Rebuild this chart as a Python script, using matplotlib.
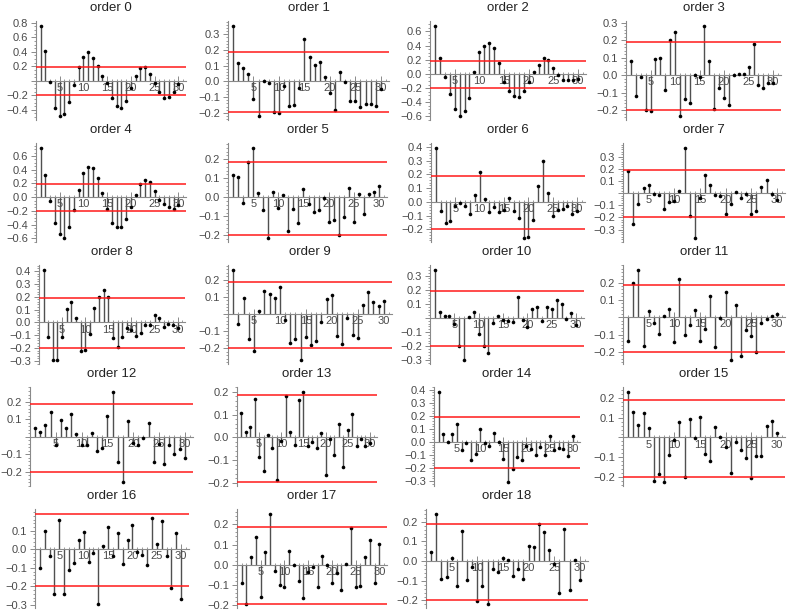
import matplotlib
matplotlib.use('Agg')
import matplotlib.pyplot as plt
from matplotlib.ticker import FixedLocator, MultipleLocator, AutoMinorLocator

plt.rcParams['font.family'] = ['Liberation Sans', 'DejaVu Sans']

# ---------------- data ----------------
lags = list(range(1, 31))

acf_order0 = [0.75, 0.41, -0.02, -0.38, -0.49, -0.46, -0.29, -0.06, 0.195, 0.33,
              0.40, 0.32, 0.20, 0.06, -0.03, -0.24, -0.35, -0.37, -0.28, -0.10,
              0.06, 0.17, 0.19, 0.10, -0.03, -0.16, -0.23, -0.22, -0.15, -0.04]
acf_order1 = [0.35, 0.118, 0.086, 0.046, -0.11, -0.223, 0.004, -0.013, -0.198, -0.204,
              -0.027, -0.154, -0.152, -0.044, 0.27, 0.158, 0.105, 0.122, 0.03, -0.072,
              -0.183, 0.059, -0.006, -0.124, -0.122, -0.16, -0.145, -0.145, -0.154, -0.05]
acf_order2 = [0.67, 0.23, -0.05, -0.29, -0.49, -0.60, -0.53, -0.34, 0.03, 0.31,
              0.40, 0.44, 0.36, 0.15, -0.11, -0.24, -0.31, -0.32, -0.24, -0.12,
              0.02, 0.13, 0.22, 0.20, 0.08, -0.02, -0.09, -0.08, -0.08, -0.07]
acf_order3 = [0.08, -0.116, -0.012, -0.198, -0.202, 0.094, 0.102, -0.082, 0.204, 0.249,
              -0.235, -0.135, -0.157, 0.002, -0.008, 0.28, 0.084, -0.19, -0.07, -0.129,
              -0.171, 0.002, 0.01, 0.01, 0.045, 0.18, -0.053, -0.073, -0.045, -0.045]
acf_order4 = [0.71, 0.325, -0.055, -0.38, -0.54, -0.60, -0.44, -0.18, 0.105, 0.355,
              0.445, 0.425, 0.285, 0.06, -0.165, -0.375, -0.435, -0.44, -0.315, -0.145,
              0.025, 0.185, 0.25, 0.225, 0.085, -0.045, -0.095, -0.15, -0.175, -0.115]
acf_order5 = [0.117, 0.108, -0.028, 0.188, 0.257, 0.021, -0.068, -0.216, 0.026, -0.054,
              0.012, -0.179, -0.063, -0.136, 0.042, -0.035, -0.077, -0.066, -0.005, -0.129,
              -0.118, -0.197, -0.104, 0.049, -0.129, 0.016, -0.09, 0.017, 0.03, 0.059]
acf_order6 = [0.39, -0.063, -0.157, -0.137, -0.033, -0.005, -0.028, -0.091, 0.048, 0.22,
              0.018, -0.076, -0.035, -0.073, -0.058, 0.025, -0.063, -0.116, -0.266, -0.256,
              -0.132, 0.116, 0.30, 0.066, -0.101, -0.056, -0.053, -0.028, -0.086, -0.063]
acf_order7 = [0.184, -0.254, -0.086, 0.038, 0.065, -0.008, -0.016, -0.127, -0.07, -0.065,
              0.019, 0.368, -0.192, -0.373, -0.038, 0.146, 0.07, -0.016, -0.027, -0.176,
              -0.089, 0.011, -0.04, -0.008, -0.168, -0.151, 0.051, 0.108, -0.005, -0.059]
acf_order8 = [0.405, -0.11, -0.295, -0.289, -0.11, 0.102, 0.156, 0.031, -0.224, -0.215,
              -0.088, 0.113, 0.195, 0.255, 0.2, -0.119, -0.193, -0.11, -0.045, -0.062,
              -0.102, -0.085, -0.02, -0.02, 0.06, 0.034, -0.034, -0.008, -0.02, -0.045]
acf_order9 = [0.253, -0.057, 0.09, -0.147, -0.213, 0.015, 0.133, 0.116, 0.09, 0.154,
              -0.038, -0.166, -0.145, -0.27, -0.133, -0.181, -0.156, -0.044, 0.088, 0.109,
              -0.128, -0.177, -0.025, -0.12, -0.139, 0.051, 0.128, 0.07, 0.044, 0.076]
acf_order10 = [0.337, 0.044, 0.015, 0.015, -0.041, -0.195, -0.30, 0.007, 0.041, -0.115,
               -0.195, -0.251, -0.032, 0.017, -0.017, -0.022, -0.029, 0.149, -0.017, -0.066,
               0.061, 0.08, -0.022, 0.078, 0.066, 0.129, 0.10, -0.005, 0.037, -0.049]
acf_order11 = [-0.136, 0.20, 0.27, -0.164, 0.038, -0.036, -0.094, 0.006, 0.047, -0.145,
               0.223, -0.102, -0.047, 0.042, -0.14, -0.07, 0.123, -0.174, -0.004, 0.143,
               -0.249, 0.07, -0.225, -0.074, -0.106, -0.198, -0.034, -0.013, 0.008, 0.017]
acf_order12 = [0.047, 0.026, 0.065, 0.14, -0.047, 0.097, 0.05, 0.129, 0.017, -0.047,
               -0.047, 0.02, -0.08, -0.065, 0.118, 0.252, -0.146, -0.26, 0.088, -0.036,
               -0.047, -0.006, 0.08, -0.144, -0.039, -0.153, -0.05, -0.097, -0.069, -0.12]
acf_order13 = [0.106, 0.023, 0.046, 0.171, -0.086, -0.148, 0.01, -0.046, -0.189, -0.016,
               0.182, 0.024, -0.033, 0.164, 0.198, -0.039, -0.021, -0.046, 0.02, -0.167,
               -0.007, -0.078, 0.059, -0.132, 0.034, 0.101, -0.036, -0.005, -0.039, -0.026]
acf_order14 = [0.38, 0.059, -0.003, 0.059, 0.135, -0.065, -0.006, -0.135, -0.096, 0.101,
               -0.006, -0.028, 0.07, -0.003, -0.127, -0.31, -0.206, -0.113, -0.138, -0.028,
               -0.051, -0.099, -0.037, -0.099, 0.048, -0.059, -0.048, -0.054, -0.104, 0.048]
acf_order15 = [0.228, 0.128, 0.062, 0.125, 0.047, -0.222, -0.183, -0.227, -0.087, -0.015,
               0.078, -0.202, 0.093, -0.005, 0.103, -0.083, -0.117, 0.053, 0.002, -0.047,
               -0.18, -0.022, -0.062, -0.103, -0.207, -0.092, -0.092, 0.06, 0.082, 0.025]
acf_order16 = [-0.099, 0.10, -0.036, -0.24, 0.157, -0.24, -0.11, -0.074, 0.05, 0.095,
               -0.067, -0.018, -0.297, 0.02, 0.121, -0.036, 0.088, -0.079, 0.05, 0.13,
               -0.013, -0.031, -0.085, 0.168, 0.029, 0.15, -0.034, -0.211, 0.088, -0.27]
acf_order17 = [-0.091, -0.197, 0.036, 0.136, -0.161, 0.065, 0.25, -0.034, -0.099, -0.113,
               0.07, -0.003, -0.084, -0.165, -0.036, -0.01, -0.113, 0.043, -0.003, -0.093,
               -0.041, -0.127, 0.005, 0.182, -0.111, -0.106, 0.038, 0.125, -0.091, 0.105]
acf_order18 = [0.044, 0.237, -0.091, -0.081, 0.015, -0.126, 0.153, -0.096, -0.03, -0.203,
               -0.128, -0.22, -0.04, -0.054, 0.017, 0.007, -0.074, -0.039, -0.091, 0.077,
               0.072, 0.19, 0.15, 0.057, -0.017, -0.163, 0.163, -0.148, 0.005, -0.097]

upper_band = 0.188
lower_band = -0.198

# labelled y ticks for each panel
yticks_order = [
    [0.8, 0.6, 0.4, 0.2, -0.2, -0.4],
    [0.3, 0.2, 0.1, 0.0, -0.1, -0.2],
    [0.6, 0.4, 0.2, 0.0, -0.2, -0.4, -0.6],
    [0.3, 0.2, 0.1, 0.0, -0.1, -0.2],
    [0.6, 0.4, 0.2, 0.0, -0.2, -0.4, -0.6],
    [0.2, 0.1, 0.0, -0.1, -0.2],
    [0.4, 0.3, 0.2, 0.1, 0.0, -0.1, -0.2],
    [0.3, 0.2, 0.1, -0.1, -0.2, -0.3],
    [0.4, 0.3, 0.2, 0.1, 0.0, -0.1, -0.2, -0.3],
    [0.2, 0.1, -0.1, -0.2],
    [0.3, 0.2, 0.1, -0.1, -0.2, -0.3],
    [0.2, 0.1, -0.1, -0.2],
    [0.2, 0.1, -0.1, -0.2],
    [0.2, 0.1, 0.0, -0.1, -0.2],
    [0.4, 0.3, 0.2, 0.1, 0.0, -0.1, -0.2, -0.3],
    [0.2, 0.1, -0.1, -0.2],
    [0.1, 0.0, -0.1, -0.2, -0.3],
    [0.2, 0.1, 0.0, -0.1, -0.2],
    [0.2, 0.1, 0.0, -0.1, -0.2],
]
xtick_labels = [5, 10, 15, 20, 25, 30]

series = [acf_order0, acf_order1, acf_order2, acf_order3, acf_order4, acf_order5,
          acf_order6, acf_order7, acf_order8, acf_order9, acf_order10, acf_order11,
          acf_order12, acf_order13, acf_order14, acf_order15, acf_order16, acf_order17,
          acf_order18]

# ---------------- layout (pixels) ----------------
W, H = 789, 610
panel_x = [(36, 186), (228, 389), (430, 586), (626, 781),
           (36, 186), (228, 387), (431, 585), (623, 785),
           (39, 185), (228, 392), (430, 584), (623, 785),
           (30, 193), (237, 377), (434, 580), (623, 785),
           (35, 189), (237, 387), (426, 588)]
row_h = 122
ax_top_off, ax_bot_off = 21, 120

axis_col = '#8a8a8a'
label_col = '#4a4a4a'
stem_col = '#505050'

fig = plt.figure(figsize=(W / 100, H / 100), dpi=100)

for i, vals in enumerate(series):
    row = i // 4
    L, R = panel_x[i]
    T = row * row_h + ax_top_off
    B = row * row_h + ax_bot_off
    ax = fig.add_axes([L / W, 1 - B / H, (R - L) / W, (B - T) / H])

    hi = max(max(vals), upper_band)
    lo = min(min(vals), lower_band)
    rng = hi - lo
    ax.set_ylim(lo - 0.04 * rng, hi + 0.06 * rng)
    ax.set_xlim(0, 31.6)

    ax.vlines(lags, 0, vals, color=stem_col, lw=1.0, zorder=2)
    ax.plot(lags, vals, 'o', color='black', ms=2.6, mew=0, zorder=3)
    ax.axhline(upper_band, color='#ff1a1a', lw=1.1, zorder=4)
    ax.axhline(lower_band, color='#ff1a1a', lw=1.1, zorder=4)

    for s in ('top', 'right'):
        ax.spines[s].set_visible(False)
    ax.spines['bottom'].set_position(('data', 0))
    ax.spines['left'].set_position(('data', 0))
    for s in ('bottom', 'left'):
        ax.spines[s].set_color(axis_col)
        ax.spines[s].set_linewidth(0.8)

    labelled = yticks_order[i]
    majors = sorted(set(labelled) | {0.0}, reverse=True)
    ax.yaxis.set_major_locator(FixedLocator(majors))
    ax.set_yticklabels([(f'{v:.1f}'.replace('-', '\u2212') if v in labelled else '')
                        for v in majors])
    ax.yaxis.set_minor_locator(AutoMinorLocator())

    ax.xaxis.set_major_locator(FixedLocator(xtick_labels))
    ax.set_xticklabels([str(v) for v in xtick_labels])
    ax.xaxis.set_minor_locator(MultipleLocator(1))

    ax.tick_params(axis='both', which='major', direction='in', length=3.5, width=0.7,
                   color=axis_col, labelcolor=label_col, labelsize=8, pad=1.5)
    ax.tick_params(axis='both', which='minor', direction='in', length=1.8, width=0.6,
                   color=axis_col)
    ax.tick_params(axis='y', which='both', direction='out')
    ax.tick_params(axis='y', which='major', pad=2)
    ax.patch.set_alpha(0)

    fig.text((L + R) / 2 / W, 1 - (row * row_h + 8) / H, f'order {i}',
             ha='center', va='center', fontsize=9.5, color='#222222')

fig.savefig('out.png', dpi=100)
